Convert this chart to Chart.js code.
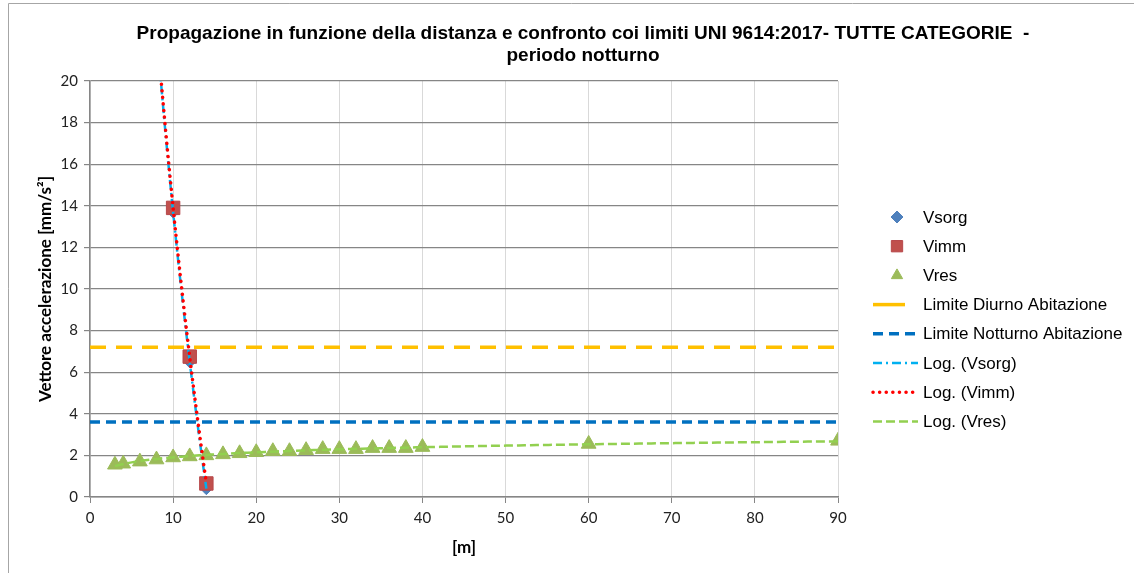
<!DOCTYPE html>
<html>
<head>
<meta charset="utf-8">
<script src="https://cdn.jsdelivr.net/npm/chart.js@4.4.1/dist/chart.umd.min.js"></script>
<style>
    html, body { margin: 0; padding: 0; background: #fff; }
    #wrap { width: 1135px; height: 573px; position: relative; }
</style>
</head>
<body>
<div id="wrap"><canvas id="chart"></canvas></div>
<script>
var titleLines = [
    "Propagazione in funzione della distanza e confronto coi limiti UNI 9614:2017- TUTTE CATEGORIE  -",
    "periodo notturno"
];
var xTitle = "[m]";
var yTitle = "Vettore accelerazione [mm/s\u00B2]";

var distSorg = [10, 12, 14];
var valSorg = [13.7, 6.5, 0.4];

var distImm = [10, 12, 14];
var valImm = [13.9, 6.75, 0.65];

var distRes = [3, 4, 6, 8, 10, 12, 14, 16, 18, 20, 22, 24, 26, 28, 30, 32, 34, 36, 38, 40, 60, 90];
var valRes = [1.55, 1.6, 1.7, 1.8, 1.9, 1.95, 2.0, 2.05, 2.1, 2.15, 2.2, 2.2, 2.25, 2.3, 2.3, 2.3, 2.35, 2.35, 2.35, 2.4, 2.55, 2.7];

var limitDiurno = 7.2;
var limitNotturno = 3.6;

var xRange = [0, 90];
var yRange = [0, 20];

// Trendline extents (Excel draws the fit over the data range, with a short backward forecast for the steep ones)
var trendSorgRange = [8, 14];
var trendImmRange = [8, 14];
var trendResRange = [3, 90];

/**
 * Least squares fit y = a*ln(x) + b, like Excel's "Log." trendline
 */
function logFit(xs, ys) {
    var n = xs.length, sx = 0, sy = 0, sxx = 0, sxy = 0;
    for (var i = 0; i < n; i++) {
        var lx = Math.log(xs[i]);
        sx += lx; sy += ys[i]; sxx += lx * lx; sxy += lx * ys[i];
    }
    var a = (n * sxy - sx * sy) / (n * sxx - sx * sx);
    var b = (sy - a * sx) / n;
    return { a: a, b: b };
}

function trendPoints(xs, ys, range) {
    var fit = logFit(xs, ys);
    var pts = [];
    var steps = 120;
    for (var i = 0; i <= steps; i++) {
        var x = range[0] + (range[1] - range[0]) * i / steps;
        pts.push({ x: x, y: fit.a * Math.log(x) + fit.b });
    }
    return pts;
}

function toPoints(xs, ys) {
    return xs.map(function(x, i) { return { x: x, y: ys[i] }; });
}

var datasets = [
    {
        label: "Vsorg", data: toPoints(distSorg, valSorg), showLine: false,
        pointStyle: "rectRot", pointRadius: 6, pointBackgroundColor: "#4F81BD",
        pointBorderColor: "#4F81BD", pointBorderWidth: 1, order: 7,
        legendType: "marker", legendRadius: 6
    },
    {
        label: "Vimm", data: toPoints(distImm, valImm), showLine: false,
        pointStyle: "rect", pointRadius: 9.5, pointBackgroundColor: "#C0504D",
        pointBorderColor: "#B7474A", pointBorderWidth: 1, order: 6,
        legendType: "marker", legendRadius: 8
    },
    {
        label: "Vres", data: toPoints(distRes, valRes), showLine: false,
        pointStyle: "triangle", pointRadius: 8.5, pointBackgroundColor: "#9BBB59",
        pointBorderColor: "#9BBB59", pointBorderWidth: 1, order: 5,
        legendType: "marker", legendRadius: 6.5
    },
    {
        label: "Limite Diurno Abitazione",
        data: [{ x: xRange[0], y: limitDiurno }, { x: xRange[1], y: limitDiurno }],
        showLine: true, borderColor: "#FFC000", borderWidth: 3.5, borderDash: [16, 10],
        pointRadius: 0, order: 4, legendType: "solid"
    },
    {
        label: "Limite Notturno Abitazione",
        data: [{ x: xRange[0], y: limitNotturno }, { x: xRange[1], y: limitNotturno }],
        showLine: true, borderColor: "#0070C0", borderWidth: 3.5, borderDash: [10, 6],
        pointRadius: 0, order: 4, legendType: "line"
    },
    {
        label: "Log. (Vsorg)", data: trendPoints(distSorg, valSorg, trendSorgRange),
        showLine: true, borderColor: "#00B0F0", borderWidth: 2.5, borderDash: [9, 4, 2, 4],
        pointRadius: 0, order: 2, legendType: "line"
    },
    {
        label: "Log. (Vimm)", data: trendPoints(distImm, valImm, trendImmRange),
        showLine: true, borderColor: "#FF0000", borderWidth: 3.5, borderDash: [0.1, 6.5],
        borderCapStyle: "round", pointRadius: 0, order: 1, legendType: "line"
    },
    {
        label: "Log. (Vres)", data: trendPoints(distRes, valRes, trendResRange),
        showLine: true, borderColor: "#92D050", borderWidth: 2.5, borderDash: [9, 4],
        pointRadius: 0, order: 3, legendType: "line"
    }
];

// Title, outer frame and the Excel-style legend on the right
var decorPlugin = {
    id: "decor",
    beforeDraw: function(chart) {
        var ctx = chart.ctx;
        ctx.save();
        ctx.fillStyle = "#fff";
        ctx.fillRect(0, 0, chart.width, chart.height);
        // frame: only the top and left edges fall inside the picture
        ctx.strokeStyle = "#A6A6A6";
        ctx.lineWidth = 1;
        ctx.beginPath();
        ctx.moveTo(8.5, chart.height);
        ctx.lineTo(8.5, 3.5);
        ctx.lineTo(1134, 3.5);
        ctx.stroke();
        ctx.restore();
    },
    afterDraw: function(chart) {
        var ctx = chart.ctx;
        ctx.save();

        // Title
        ctx.fillStyle = "#000";
        ctx.font = "bold 19px 'Liberation Sans', Arial, sans-serif";
        ctx.textAlign = "center";
        ctx.textBaseline = "middle";
        ctx.fillText(titleLines[0], 583, 34);
        ctx.fillText(titleLines[1], 583, 56);

        // Legend
        var startY = 217, stepY = 29.2;
        var markerX = 897, lineX0 = 873, lineX1 = 918, textX = 923;
        ctx.font = "17px 'Liberation Sans', Arial, sans-serif";
        ctx.textAlign = "left";
        chart.data.datasets.forEach(function(ds, i) {
            var y = startY + i * stepY;
            if (ds.legendType === "marker") {
                ctx.fillStyle = ds.pointBackgroundColor;
                ctx.strokeStyle = ds.pointBorderColor;
                ctx.lineWidth = 1;
                Chart.helpers.drawPoint(ctx, {
                    pointStyle: ds.pointStyle,
                    radius: ds.legendRadius,
                    borderWidth: 1,
                    rotation: 0
                }, markerX, y);
            } else {
                ctx.strokeStyle = ds.borderColor;
                ctx.lineWidth = ds.borderWidth;
                ctx.lineCap = ds.borderCapStyle || "butt";
                ctx.setLineDash(ds.legendType === "solid" ? [] : ds.borderDash);
                ctx.beginPath();
                ctx.moveTo(lineX0, y);
                ctx.lineTo(ds.legendType === "solid" ? 905 : lineX1, y);
                ctx.stroke();
                ctx.setLineDash([]);
                ctx.lineCap = "butt";
            }
            ctx.fillStyle = "#000";
            ctx.fillText(ds.label, textX, y + 1);
        });
        ctx.restore();
    }
};

var tickFont = { family: "Lato, 'Noto Sans', sans-serif", size: 15 };
var axisTitleFont = { family: "Lato, 'Noto Sans', sans-serif", size: 17, weight: "bold" };

new Chart(document.getElementById("chart"), {
    type: "scatter",
    data: { datasets: datasets },
    plugins: [decorPlugin],
    options: {
        responsive: true,
        maintainAspectRatio: false,
        animation: false,
        layout: { padding: { left: 0, top: 81, right: 297, bottom: 0 } },
        plugins: {
            legend: { display: false },
            title: { display: false },
            tooltip: { enabled: false }
        },
        scales: {
            x: {
                type: "linear",
                min: xRange[0], max: xRange[1],
                ticks: { stepSize: 10, color: "#222", font: tickFont, padding: 6 },
                grid: { color: "#D9D9D9", lineWidth: 1, tickColor: "#868686", tickLength: 6 },
                border: { color: "#868686", width: 1.5 },
                title: { display: true, text: xTitle, color: "#000", font: axisTitleFont,
                         padding: { top: 0, bottom: 15 } },
                afterFit: function(scale) { scale.height = 76; }
            },
            y: {
                type: "linear",
                min: yRange[0], max: yRange[1],
                ticks: { stepSize: 2, color: "#222", font: tickFont, padding: 6 },
                grid: { color: "#868686", lineWidth: 1.2, tickColor: "#868686", tickLength: 6 },
                border: { color: "#868686", width: 1.5 },
                title: { display: true, text: yTitle, color: "#000", font: axisTitleFont,
                         padding: { top: 35, bottom: 0 } },
                afterFit: function(scale) { scale.width = 90; }
            }
        }
    }
});
</script>
</body>
</html>
